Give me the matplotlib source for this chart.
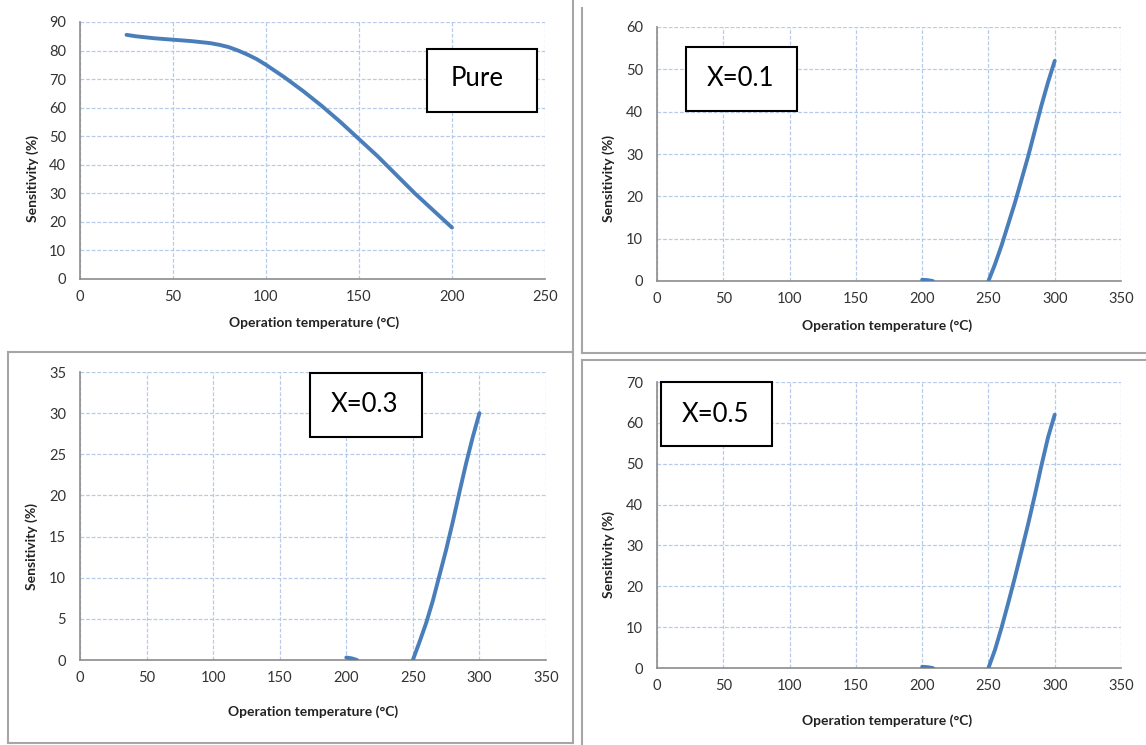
import matplotlib
matplotlib.use('Agg')
import matplotlib.pyplot as plt
from matplotlib.lines import Line2D
from matplotlib.patches import Rectangle

W, H = 1146, 745

# ---- data ----
pure_temp = [25, 30, 40, 50, 60, 70, 75, 80, 85, 90, 95, 100, 110, 120, 130, 140, 150, 160, 170,
             180, 190, 200]
pure_sens = [85.5, 85.0, 84.3, 83.8, 83.3, 82.6, 82.0, 81.2, 80.0, 78.6, 77.0, 75.0, 70.6, 65.8,
             60.6, 55.0, 49.0, 43.0, 36.5, 30.0, 24.0, 18.0]

blip_temp = [200, 204, 208]
blip_sens = [0.3, 0.2, 0.0]

rise_temp = [250, 255, 260, 265, 270, 275, 280, 285, 290, 295, 300]
x01_sens = [0, 4.0, 8.5, 13.5, 18.5, 24.0, 29.5, 35.5, 41.5, 47.0, 52.0]
x03_sens = [0, 2.2, 4.5, 7.2, 10.3, 13.4, 16.8, 20.4, 23.9, 27.1, 30.0]
x05_sens = [0, 4.5, 10.0, 16.0, 22.2, 28.7, 35.3, 42.3, 49.6, 56.5, 62.0]

panel_labels = ["Pure", "X=0.1", "X=0.3", "X=0.5"]
x_max = [250, 350, 350, 350]
y_max = [90, 60, 35, 70]
y_step = [10, 10, 5, 10]

LINE = '#4A7EBB'
GRID = '#B7CBE8'
SPINE = '#8C8C8C'
FONT = 'Lato'

fig = plt.figure(figsize=(W / 100, H / 100), dpi=100)

def fbox(l, t, r, b):
    return [l / W, 1 - b / H, (r - l) / W, (b - t) / H]

axes_px = [(80, 22, 545, 279), (657, 27, 1121, 281), (80, 372, 546, 660), (657, 382, 1121, 668)]
box_px = [(427, 49, 537, 112), (686, 47, 797, 111), (310, 373, 422, 437), (661, 382, 772, 446)]
text_px = [(477, 79), (740, 78), (364, 404), (715, 414)]
ylab_px = [(33, 178), (609, 179), (32, 546), (609, 555)]
xlab_px = [(314, 323), (887, 326), (313, 712), (887, 721)]

series = [
    [(pure_temp, pure_sens)],
    [(blip_temp, blip_sens), (rise_temp, x01_sens)],
    [(blip_temp, blip_sens), (rise_temp, x03_sens)],
    [(blip_temp, blip_sens), (rise_temp, x05_sens)],
]

for i in range(4):
    ax = fig.add_axes(fbox(*axes_px[i]))
    ax.set_xlim(0, x_max[i])
    ax.set_ylim(0, y_max[i])
    ax.set_xticks(range(0, x_max[i] + 1, 50))
    ax.set_yticks(range(0, y_max[i] + 1, y_step[i]))
    ax.grid(True, color=GRID, linestyle=(0, (3, 1.5)), linewidth=0.9)
    ax.set_axisbelow(True)
    for s in ['top', 'right']:
        ax.spines[s].set_visible(False)
    for s in ['left', 'bottom']:
        ax.spines[s].set_color(SPINE)
        ax.spines[s].set_linewidth(1.2)
    ax.tick_params(length=0, labelsize=10.5, labelcolor='#333333')
    ax.tick_params(axis='x', pad=8)
    ax.tick_params(axis='y', pad=10)
    for lab in ax.get_xticklabels() + ax.get_yticklabels():
        lab.set_fontfamily(FONT)
    for xs, ys in series[i]:
        ax.plot(xs, ys, color=LINE, linewidth=2.8, solid_capstyle='round',
                solid_joinstyle='round', zorder=3)

    fig.text(ylab_px[i][0] / W, 1 - ylab_px[i][1] / H, "Sensitivity (%)", rotation=90,
             ha='center', va='center', fontsize=10, fontweight='bold', family=FONT, color='#222222')
    fig.text(xlab_px[i][0] / W, 1 - xlab_px[i][1] / H, "Operation temperature (\u00b0C)",
             ha='center', va='center', fontsize=10, fontweight='bold', family=FONT, color='#222222')

    l, t, r, b = box_px[i]
    fig.patches.append(Rectangle((l / W, 1 - b / H), (r - l) / W, (b - t) / H,
                                 transform=fig.transFigure, facecolor='white',
                                 edgecolor='black', linewidth=1.5, zorder=10))
    fig.text(text_px[i][0] / W, 1 - text_px[i][1] / H, panel_labels[i], ha='center', va='center',
             fontsize=18.5, family=FONT, color='black', zorder=11)

# panel frame lines
frame = [
    ((573, 573), (0, 352)),
    ((8, 573), (352, 352)),
    ((573, 573), (352, 743)),
    ((8, 573), (743, 743)),
    ((8, 8), (352, 743)),
    ((582, 582), (8, 353)),
    ((582, 1146), (353, 353)),
    ((582, 582), (360, 745)),
    ((582, 1146), (360, 360)),
]
for xs, ys in frame:
    fig.lines.append(Line2D([x / W for x in xs], [1 - y / H for y in ys], transform=fig.transFigure,
                            color='#A6A6A6', linewidth=1.5))

fig.savefig('out.png', dpi=100)
